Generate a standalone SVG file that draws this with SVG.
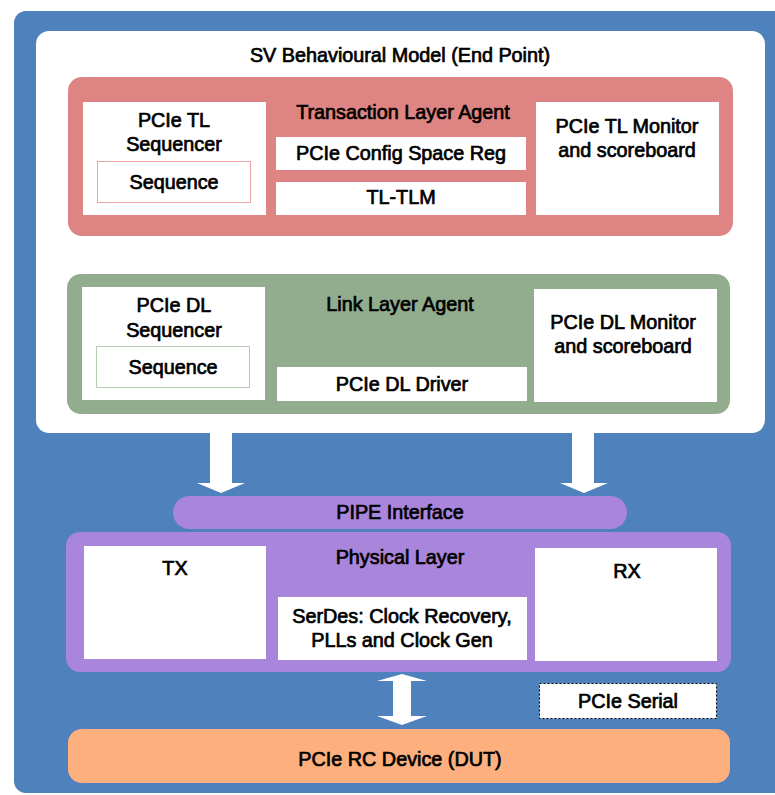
<svg xmlns="http://www.w3.org/2000/svg" width="775" height="795" viewBox="0 0 775 795">
<style>
text{font-family:"Liberation Sans",Arial,sans-serif;font-weight:normal;font-size:19.8px;fill:#000;stroke:#000;stroke-width:0.7;text-anchor:middle}
.w{fill:#fff}
.arrow{fill:#fff}
</style>
<rect x="0" y="0" width="775" height="795" fill="#fff"/>
<rect id="bg" x="14" y="11" width="800" height="782" rx="12" fill="#4F81BD"/>
<g id="sv-model">
<rect x="36" y="31" width="729" height="402" rx="13" fill="#fff"/>
<text x="400" y="62">SV Behavioural Model (End Point)</text>
</g>
<g id="tl-agent">
<rect x="68" y="77" width="665" height="159" rx="14" fill="#DE8482"/>
<text x="403" y="119">Transaction Layer Agent</text>
</g>
<g id="tl-sequencer">
<rect class="w" x="83" y="102" width="183" height="113"/>
<text x="174" y="127">PCIe TL</text>
<text x="174" y="151">Sequencer</text>
</g>
<g id="tl-sequence">
<rect x="97.5" y="161.5" width="153" height="41" fill="#fff" stroke="#EBA4A4" stroke-width="1"/>
<text x="174" y="189">Sequence</text>
</g>
<g id="tl-config">
<rect class="w" x="276" y="137" width="250" height="33"/>
<text x="401" y="160">PCIe Config Space Reg</text>
</g>
<g id="tl-tlm">
<rect class="w" x="276" y="182" width="250" height="33"/>
<text x="401" y="204">TL-TLM</text>
</g>
<g id="tl-monitor">
<rect class="w" x="536" y="102" width="183" height="113"/>
<text x="627" y="133">PCIe TL Monitor</text>
<text x="627" y="157">and scoreboard</text>
</g>
<g id="dl-agent">
<rect x="67" y="274" width="663" height="140" rx="14" fill="#92AD8E"/>
<text x="400" y="311">Link Layer Agent</text>
</g>
<g id="dl-sequencer">
<rect class="w" x="82" y="287" width="183" height="113"/>
<text x="174" y="312">PCIe DL</text>
<text x="174" y="337">Sequencer</text>
</g>
<g id="dl-sequence">
<rect x="96.5" y="346.5" width="153" height="41" fill="#fff" stroke="#B7CDB3" stroke-width="1"/>
<text x="173" y="374">Sequence</text>
</g>
<g id="dl-driver">
<rect class="w" x="277" y="367" width="250" height="34"/>
<text x="402" y="391">PCIe DL Driver</text>
</g>
<g id="dl-monitor">
<rect class="w" x="534" y="289" width="183" height="113"/>
<text x="623" y="329">PCIe DL Monitor</text>
<text x="623" y="353">and scoreboard</text>
</g>
<g id="pipe">
<rect x="173" y="496" width="454" height="33" rx="16.5" fill="#A985DC"/>
<text x="400" y="519">PIPE Interface</text>
</g>
<g id="phy">
<rect x="66" y="532" width="665" height="140" rx="14" fill="#A985DC"/>
<text x="400" y="564">Physical Layer</text>
</g>
<g id="tx">
<rect class="w" x="84" y="546" width="182" height="113"/>
<text x="175" y="575">TX</text>
</g>
<g id="serdes">
<rect class="w" x="278" y="597" width="249" height="63"/>
<text x="402" y="623">SerDes: Clock Recovery,</text>
<text x="402" y="647">PLLs and Clock Gen</text>
</g>
<g id="rx">
<rect class="w" x="535" y="548" width="182" height="113"/>
<text x="627" y="578">RX</text>
</g>
<g id="serial-label">
<rect x="539.5" y="683.5" width="177" height="35" fill="#fff" stroke="#000" stroke-width="1" stroke-dasharray="2,2"/>
<text x="628" y="708">PCIe Serial</text>
</g>
<g id="dut">
<rect x="68" y="729" width="662" height="54" rx="14" fill="#FDB07E"/>
<text x="400" y="766">PCIe RC Device (DUT)</text>
</g>
<g id="connectors">
<polygon class="arrow" points="210,433 232,433 232,483 245,483 221,493 197,483 210,483"/>
<polygon class="arrow" points="572,433 594,433 594,483 608,483 584,493 560,483 572,483"/>
<polygon class="arrow" points="402,674 427,681 411,681 411,716 427,716 402,725 377,716 393,716 393,681 377,681"/>
</g>
</svg>
